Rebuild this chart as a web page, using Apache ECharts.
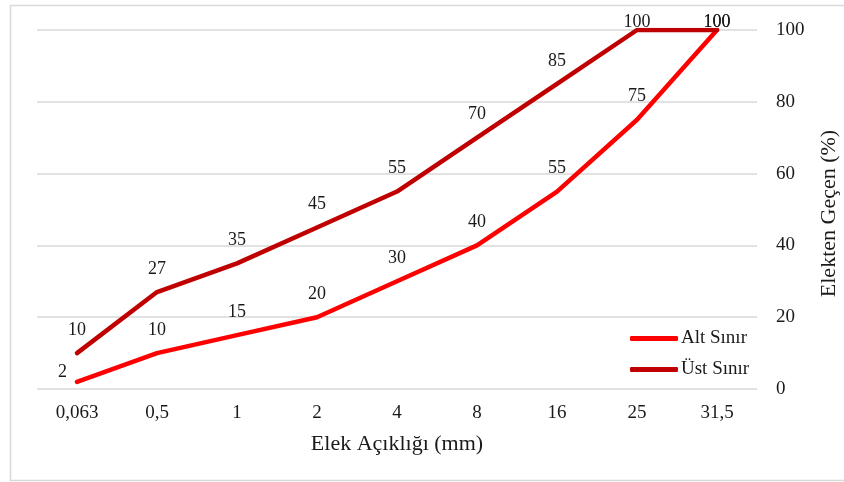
<!DOCTYPE html>
<html><head><meta charset="utf-8">
<script src="https://cdn.jsdelivr.net/npm/echarts@6/dist/echarts.min.js"></script>
<style>html,body{margin:0;padding:0;background:#fff}#c{width:844px;height:482px}</style>
</head><body><div id="c"></div>
<script>
const categories = ['0,063','0,5','1','2','4','8','16','25','31,5'];
const altSinir = [2,10,15,20,30,40,55,75,100];
const ustSinir = [10,27,35,45,55,70,85,100,100];
const yTicks = [0,20,40,60,80,100];
const FONT = '"Liberation Serif", "Times New Roman", serif';
const chart = echarts.init(document.getElementById('c'));
function withLabels(arr, firstLeft){
  return arr.map((v,i)=>{
    if (firstLeft && i===0) return {value:v, label:{position:'left', distance:10, offset:[0,-10]}};
    if (v===100) return {value:v, label:{offset:[0,15]}};
    return v;
  });
}
const labelStyle = {show:true, position:'top', distance:14, fontFamily:FONT, fontSize:18, color:'#1a1a1a'};
chart.setOption({
  animation:false,
  graphic:[{type:'rect', shape:{x:10.5,y:5.5,width:840,height:475}, style:{fill:'none', stroke:'#d9d9d9', lineWidth:1.5}, silent:true}],
  grid:{left:37,right:87,top:30,bottom:93,containLabel:false,outerBoundsMode:'none'},
  legend:{
    orient:'vertical', left:630, top:329, padding:0, itemWidth:48, itemHeight:5, itemGap:12,
    icon:'roundRect',
    textStyle:{fontFamily:FONT,fontSize:19,color:'#1a1a1a',padding:[0,0,0,-2]},
    data:['Alt Sınır','Üst Sınır']
  },
  xAxis:{
    type:'category', data:categories, boundaryGap:true,
    axisLine:{show:false}, axisTick:{show:false},
    axisLabel:{fontFamily:FONT,fontSize:19,color:'#1a1a1a',margin:15},
    name:'Elek Açıklığı (mm)', nameLocation:'middle', nameGap:44,
    nameTextStyle:{fontFamily:FONT,fontSize:22,color:'#1a1a1a'}
  },
  yAxis:{
    type:'value', position:'right', min:0, max:100, interval:20,
    axisLine:{show:false}, axisTick:{show:false},
    axisLabel:{fontFamily:FONT,fontSize:19,color:'#1a1a1a',margin:19,
      formatter:v=> yTicks.includes(v)? String(v):''},
    splitLine:{lineStyle:{color:'#d9d9d9',width:1.5}},
    name:'Elekten Geçen (%)', nameLocation:'middle', nameRotate:90, nameGap:61,
    nameTextStyle:{fontFamily:FONT,fontSize:22,color:'#1a1a1a',padding:[0,0,0,-8]}
  },
  series:[
    {name:'Alt Sınır', type:'line', data:withLabels(altSinir,true), showSymbol:true, symbol:'circle', symbolSize:0.1,
     lineStyle:{color:'#ff0000',width:4.5,cap:'round',join:'round'}, itemStyle:{color:'#ff0000'},
     label:labelStyle},
    {name:'Üst Sınır', type:'line', data:withLabels(ustSinir,false), showSymbol:true, symbol:'circle', symbolSize:0.1,
     lineStyle:{color:'#c00000',width:4.5,cap:'round',join:'round'}, itemStyle:{color:'#c00000'},
     label:labelStyle}
  ]
});
</script></body></html>
